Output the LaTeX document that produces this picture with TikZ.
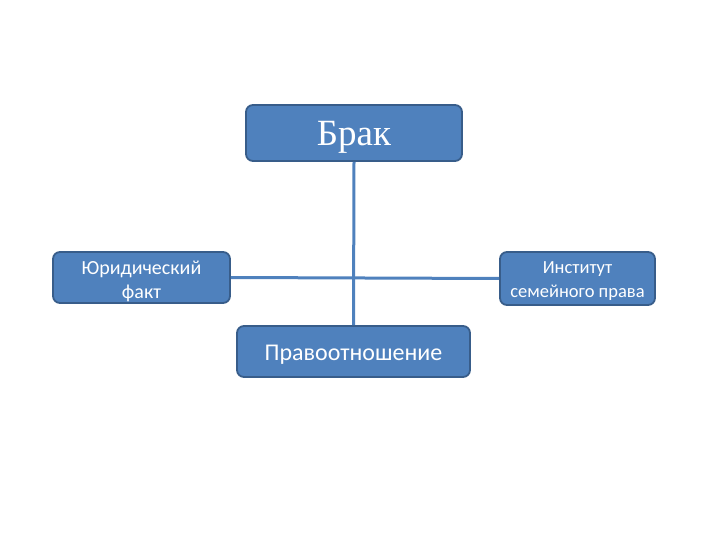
\documentclass[tikz,border=0pt]{standalone}
\usepackage{fontspec}
\setmainfont{Carlito}
\newfontfamily\serifru{Liberation Serif}
\definecolor{boxfill}{HTML}{4F81BD}
\definecolor{boxedge}{HTML}{385D8A}
\tikzset{
  box/.style={draw=boxedge, line width=1.8pt, fill=boxfill, rounded corners=7pt, inner sep=0pt},
  boxtext/.style={text=white, align=center, inner sep=0pt},
  link/.style={draw=boxfill, line width=3pt}
}
\begin{document}
\begin{tikzpicture}[x=1pt,y=-1pt]
\useasboundingbox (0,0) rectangle (720,540);
\node[box, minimum width=216pt, minimum height=56pt] (brak) at (354,133) {};
\node[box, minimum width=177pt, minimum height=51pt] (fakt) at (141.5,277.5) {};
\node[box, minimum width=155pt, minimum height=53pt] (inst) at (577.5,278.5) {};
\node[box, minimum width=233pt, minimum height=51pt] (pravo) at (353.5,351.5) {};
\draw[link] (brak.south) -- (pravo.north);
\draw[link] (fakt.east) -- (inst.west);
\node[boxtext, font=\serifru\fontsize{37}{42}\selectfont] (brakt) at ([yshift=-4pt]brak.center) {Брак};
\node[boxtext, font=\fontsize{20}{24}\selectfont] (faktt) at ([yshift=-4pt]fakt.center) {Юридический\\факт};
\node[boxtext, font=\fontsize{18.5}{24}\selectfont] (instt) at ([yshift=-3pt]inst.center) {Институт\\семейного права};
\node[boxtext, font=\fontsize{24}{28}\selectfont] (pravot) at ([yshift=-3pt]pravo.center) {Правоотношение};
\end{tikzpicture}
\end{document}
